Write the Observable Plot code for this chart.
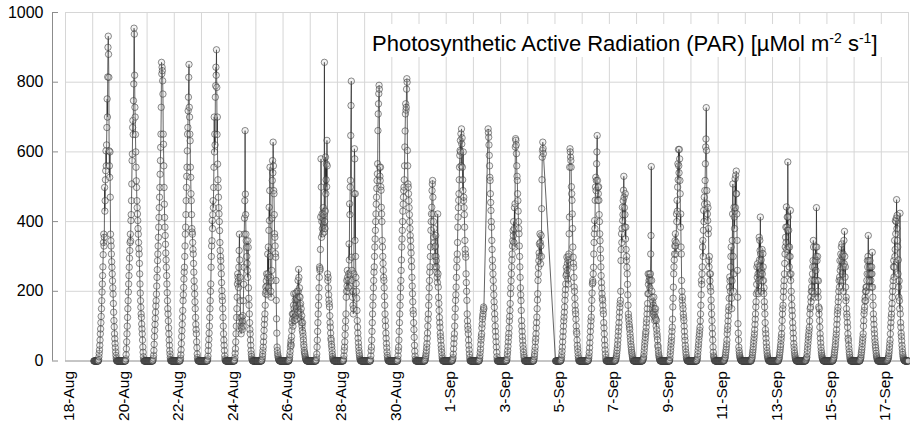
<!DOCTYPE html>
<html><head><meta charset="utf-8">
<script src="https://cdn.jsdelivr.net/npm/d3@7"></script>
<script src="https://cdn.jsdelivr.net/npm/@observablehq/plot@0.6"></script>
<style>
html,body{margin:0;padding:0;background:#fff;}
#chart{width:910px;height:430px;}
</style></head><body><div id="chart"></div>
<script>
// PAR readings, µMol m-2 s-1, every 15 minutes from 05:00 to 21:00 (65 values per day)
const par19Aug = [0,4,12,22, 32,45,60,78, 92,110,128,150, 173,198,221,245, 270,305,340,364, 330,355,498,430, 460,520,546,603, 560,620,670,752, 700,815,900,932, 880,814,603,560, 527,600,470,364, 345,330,307,285, 269,250,230,210, 192,165,140,116, 98,78,64,50, 38,26,16,8, 3];
const par20Aug = [0,6,18,35, 55,78,100,125, 150,173,198,221, 245,269,295,317, 340,364,345,403, 420,460,508,575, 594,670,690,650, 747,795,955,938, 820,728,700,650, 600,556,517,498, 460,440,422,403, 380,364,340,322, 307,280,250,221, 195,173,154,135, 125,106,92,78, 60,40,25,12, 4];
const par21Aug = [0,3,8,16, 30,48,70,88, 105,122,140,158, 173,192,215,240, 262,288,307,330, 355,384,412,440, 470,498,536,575, 613,651,728,857, 824,843,833,804, 766,651,622,560, 498,450,412,384, 360,335,310,290, 269,245,221,196, 173,150,135,115, 95,78,60,45, 30,20,10,4, 1];
const par22Aug = [0,3,8,18, 32,50,70,87, 105,125,145,173, 190,211,235,255, 269,300,330,364, 384,420,460,498, 530,556,603,651, 670,718,757,814, 851,728,700,651, 632,556,527,480, 460,420,380,370, 364,340,320,307, 280,255,230,211, 192,170,150,125, 105,90,78,55, 38,20,10,4, 1];
const par23Aug = [0,2,6,14, 30,45,62,80, 100,125,150,173, 200,221,269,300, 330,345,403,380, 420,460,440,498, 556,700,600,651, 620,757,790,843, 820,893,785,650, 700,565,520,498, 470,440,422,400, 374,340,317,300, 288,269,250,225, 202,185,173,150, 125,100,78,60, 45,30,15,6, 2];
const par24Aug = [0,3,10,22, 35,55,78,100, 125,150,183,221, 250,240,230,211, 269,317,364,290, 240,173,125,100, 78,95,125,110, 90,115,130,100, 173,220,269,364, 410,460,661,479, 420,364,345,326, 300,280,260,240, 345,326,210,180, 160,135,110,90, 78,60,45,30, 20,12,6,3, 1];
const par25Aug = [0,2,6,12, 20,30,40,55, 70,88,105,120, 135,160,193,212, 200,230,250,215, 190,240,307,250, 327,210,375,441, 403,489,556,300, 240,200,183,230, 260,410,518,575, 540,628,560,489, 480,420,365,355, 330,308,298,231, 174,121,80,40, 30,21,15,10, 6,4,2,1, 0];
const par26Aug = [0,2,5,10, 18,28,40,50, 59,45,70,88, 110,135,120,100, 135,160,193,150, 125,116,140,175, 193,160,130,180, 150,120,200,175, 140,231,200,263, 240,185,210,160, 183,140,165,120, 150,110,130,100, 88,110,80,70, 60,48,40,30, 24,20,14,10, 6,4,2,1, 0];
const par27Aug = [0,3,10,20, 40,60,85,110, 135,160,183,210, 240,270,260,265, 320,413,580,499, 355,400,422,380, 365,410,440,390, 420,370,857,400, 380,430,585,480, 520,565,500,633, 560,250,231,240, 210,190,175,164, 155,130,110,97, 80,65,59,48, 40,30,20,12, 7,4,2,1, 0];
const par28Aug = [0,2,6,15, 30,40,55,75, 95,115,135,183, 200,231,215,260, 240,200,231,210, 250,336,290,451, 420,499,518,647, 733,803,298,260, 231,183,200,160, 135,150,250,480, 609,580,346,480, 300,240,222,200, 180,145,116,97, 80,65,52,40, 30,22,15,9, 5,3,1,0, 0];
const par29Aug = [0,4,15,30, 40,60,85,110, 135,160,183,210, 231,255,270,300, 327,350,375,400, 422,450,470,495, 518,537,566,661, 709,738,767,791, 780,556,530,518, 556,500,490,441, 422,400,346,327, 300,280,260,240, 231,210,185,160, 135,116,100,80, 65,50,38,26, 16,9,4,2, 0];
const par30Aug = [0,5,15,30, 40,60,85,110, 135,160,183,210, 231,260,290,327, 350,375,400,430, 450,470,489,499, 520,560,614,660, 709,738,720,728, 780,810,800,604, 560,508,499,480, 460,440,420,400, 380,360,346,327, 310,288,270,240, 215,193,170,145, 135,110,90,68, 45,28,14,5, 1];
const par31Aug = [0,2,5,10, 15,22,30,40, 50,65,80,100, 120,135,160,183, 210,231,255,270, 300,327,375,400, 422,441,489,508, 518,470,422,400, 355,380,340,327, 300,270,330,360, 300,288,270,255, 240,225,422,250, 212,183,165,145, 125,110,97,80, 70,59,45,35, 25,15,8,3, 1];
const par01Sep = [0,1,3,6, 10,20,35,50, 65,78,100,126, 150,174,190,212, 240,269,290,307, 340,384,413,440, 461,480,520,556, 590,604,633,600, 652,560,666,623, 640,556,520,489, 600,460,470,440, 420,384,346,320, 307,298,250,225, 200,174,135,115, 100,90,78,60, 45,32,20,10, 3];
const par02Sep = [0,3,8,15, 25,35,48,60, 70,78,95,106, 120,128,135,145, 155,150,null,null, null,null,null,null, null,null,null,null, null,null,null,null, 666,655,642,620, 590,560,527,518, 480,455,432,400, 384,346,320,290, 270,250,231,210, 190,170,154,135, 120,100,85,70, 55,40,25,12, 4];
const par03Sep = [0,1,4,10, 20,30,42,55, 68,79,95,115, 128,145,165,193, 210,230,250,270, 290,307,330,345, 374,360,400,340, 380,440,327,451, 614,638,633,620, 595,560,530,518, 480,460,430,400, 380,365,330,300, 270,240,210,190, 173,145,116,100, 85,70,58,45, 35,25,16,10, 4];
const par04Sep = [0,2,6,12, 20,30,40,55, 65,78,95,110, 126,150,175,193, 231,250,269,288, 310,336,300,365, 340,279,330,360, 300,437,520,585, 604,628,610,595, null,null,null,null, null,null,null,null, null,null,null,null, null,null,null,null, null,null,null,null, null,null,null,null, null,null,null,null, null];
const par05Sep = [0,2,5,10, 18,28,40,55, 70,85,100,115, 126,140,155,174, 190,205,221,245, 269,250,298,260, 280,235,290,221, 300,307,365,413, 556,609,600,585, 575,556,500,480, 461,422,380,327, 298,280,269,240, 212,200,180,160, 145,135,120,100, 85,78,60,45, 35,25,15,8, 3];
const par06Sep = [0,1,3,8, 15,25,38,52, 68,85,100,115, 126,150,174,195, 221,231,225,250, 269,307,340,365, 403,380,461,499, 527,489,518,566, 600,647,518,461, 498,480,500,461, 420,400,365,345, 320,295,270,245, 225,210,193,180, 174,160,145,135, 110,95,78,60, 45,32,20,10, 3];
const par07Sep = [0,1,3,6, 10,15,22,30, 38,48,60,72, 85,97,110,126, 140,154,165,174, 200,288,320,365, 340,380,441,403, 420,460,490,530, 470,440,384,420, 480,350,384,320, 288,300,269,250, 220,190,160,135, 125,116,105,97, 90,78,68,58, 48,40,32,25, 20,14,9,5, 2];
const par08Sep = [0,1,3,5, 8,11,20,30, 40,50,59,68, 78,85,97,110, 120,135,150,165, 193,250,220,193, 231,250,240,210, 231,250,307,360, 558,231,200,183, 150,170,135,160, 140,183,130,150, 116,140,125,150, 120,100,116,90, 78,70,60,45, 40,30,21,15, 10,6,3,1, 0];
const par09Sep = [0,3,10,20, 30,40,50,59, 70,85,97,120, 155,180,212,250, 270,290,307,330, 345,365,330,307, 340,422,400,461, 430,499,566,520, 607,560,540,607, 580,518,480,384, 422,327,307,231, 200,174,183,160, 150,135,125,116, 100,85,70,59, 45,35,25,17, 10,6,3,1, 0];
const par10Sep = [0,2,6,11, 20,30,40,49, 60,70,78,88, 97,115,135,160, 190,231,220,250, 270,327,346,300, 375,432,400,470, 450,489,518,566, 614,637,727,604, 489,451,422,403, 440,365,380,288, 270,300,250,230, 212,250,200,175, 155,135,116,95, 78,60,40,25, 15,11,6,3, 1];
const par11Sep = [0,1,3,6, 9,11,18,25, 32,40,49,60, 78,90,100,115, 130,145,155,180, 212,241,230,200, 270,300,327,180, 150,230,346,422, 508,300,200,250, 441,413,380,430, 523,440,533,480, 545,480,422,346, 260,183,107,80, 60,40,30,22, 16,11,8,5, 3,2,1,0, 0];
const par12Sep = [0,2,5,8, 11,18,25,32, 40,50,59,68, 78,90,105,120, 135,155,170,193, 220,270,240,279, 200,250,193,230, 270,355,290,346, 317,413,307,250, 290,200,260,320, 250,230,308,270, 231,193,210,170, 155,135,110,90, 78,65,52,40, 30,22,15,11, 7,4,2,1, 0];
const par13Sep = [0,2,5,8, 11,18,25,32, 40,48,59,68, 78,95,116,135, 150,160,183,200, 215,231,250,280, 307,327,355,384, 340,442,320,384, 413,375,571,413, 327,375,300,270, 327,250,300,432, 231,250,200,180, 160,145,130,110, 95,80,65,50, 40,30,22,16, 11,7,4,2, 0];
const par14Sep = [0,1,3,6, 9,11,20,30, 40,50,60,70, 78,88,97,115, 135,150,155,183, 170,200,212,231, 200,250,270,288, 346,327,231,193, 270,183,231,288, 327,260,300,440, 327,288,231,300, 200,183,230,155, 135,150,116,97, 78,65,52,40, 30,22,16,11, 8,5,3,1, 0];
const par15Sep = [0,1,3,5, 8,11,18,25, 32,40,48,59, 68,78,90,105, 120,135,145,154, 170,183,200,231, 212,241,288,260, 231,307,270,327, 288,336,300,250, 231,307,200,270, 346,279,372,300, 241,270,212,173, 183,150,135,126, 110,97,78,65, 58,45,35,25, 18,11,6,3, 0];
const par16Sep = [0,2,5,8, 11,18,25,32, 40,50,59,68, 78,100,116,135, 145,155,173,183, 200,173,212,200, 212,231,250,288, 270,300,360,288, 250,231,270,212, 288,250,270,231, 250,212,270,250, 312,212,183,160, 135,120,105,90, 78,65,55,45, 38,30,22,15, 11,7,4,2, 0];
const par17Sep = [0,1,3,5, 8,10,15,22, 30,40,50,60, 78,97,110,125, 135,150,165,183, 200,215,231,270, 288,241,269,346, 300,320,403,365, 400,410,463,380, 418,346,327,250, 290,212,183,230, 173,150,424,135, 110,97,80,70, 58,45,35,25, 18,12,8,5, 3,2,1,0, 0];

const dayDates = ["2012-08-19","2012-08-20","2012-08-21","2012-08-22","2012-08-23","2012-08-24","2012-08-25","2012-08-26","2012-08-27","2012-08-28","2012-08-29","2012-08-30","2012-08-31","2012-09-01","2012-09-02","2012-09-03","2012-09-04","2012-09-05","2012-09-06","2012-09-07","2012-09-08","2012-09-09","2012-09-10","2012-09-11","2012-09-12","2012-09-13","2012-09-14","2012-09-15","2012-09-16","2012-09-17"];
const dayArrays = [par19Aug,par20Aug,par21Aug,par22Aug,par23Aug,par24Aug,par25Aug,par26Aug,par27Aug,par28Aug,par29Aug,par30Aug,par31Aug,par01Sep,par02Sep,par03Sep,par04Sep,par05Sep,par06Sep,par07Sep,par08Sep,par09Sep,par10Sep,par11Sep,par12Sep,par13Sep,par14Sep,par15Sep,par16Sep,par17Sep];
const nightValue = 0;                 // logger reads 0 between 21:15 and 04:45
const firstReading = "2012-08-19T01:00Z";
const lastReading = "2012-09-18T00:00Z";
const gaps = [["2012-09-04T14:00Z", "2012-09-05T00:30Z"]]; // missing readings

// axis
const axisStart = "2012-08-18T00:00Z";
const axisEnd = "2012-09-18T00:00Z";
const labelDates = ["2012-08-18","2012-08-20","2012-08-22","2012-08-24","2012-08-26","2012-08-28","2012-08-30","2012-09-01","2012-09-03","2012-09-05","2012-09-07","2012-09-09","2012-09-11","2012-09-13","2012-09-15","2012-09-17"];
const tickLabels = ["18-Aug","20-Aug","22-Aug","24-Aug","26-Aug","28-Aug","30-Aug","1-Sep","3-Sep","5-Sep","7-Sep","9-Sep","11-Sep","13-Sep","15-Sep","17-Sep"];
const yTicks = [0, 200, 400, 600, 800, 1000];

// build the reading table
const STEP = 15 * 60000;
const gapRanges = gaps.map(([a, b]) => [Date.parse(a), Date.parse(b)]);
const series = [];
for (let t = Date.parse(firstReading); t <= Date.parse(lastReading); t += STEP) {
  if (gapRanges.some(([a, b]) => t >= a && t < b)) continue;
  const d = new Date(t);
  const idx = dayDates.indexOf(d.toISOString().slice(0, 10));
  const mins = d.getUTCHours() * 60 + d.getUTCMinutes();
  let v = nightValue;
  if (idx >= 0 && mins >= 300 && mins <= 1260) {
    v = dayArrays[idx][(mins - 300) / 15];
    if (v == null) continue;
  }
  series.push({t: d, v});
}

const x0 = new Date(axisStart), x1 = new Date(axisEnd);
const gridDays = d3.utcDay.range(x0, d3.utcDay.offset(x1, 1));
const labelMap = new Map(labelDates.map((s, i) => [+new Date(s + "T00:00Z"), tickLabels[i]]));
const FONT = "'Liberation Sans', Arial, Helvetica, sans-serif";

const svg = Plot.plot({
  width: 910, height: 430,
  marginTop: 12, marginBottom: 69.5, marginLeft: 65, marginRight: 2,
  style: {fontFamily: FONT, background: "#fff", color: "#000"},
  x: {type: "utc", domain: [x0, x1]},
  y: {domain: [0, 1000]},
  marks: [
    Plot.ruleX(gridDays, {stroke: "#d6d6d6", strokeWidth: 1}),
    Plot.ruleY(yTicks.slice(1), {stroke: "#d6d6d6", strokeWidth: 1}),
    Plot.ruleY([0], {stroke: "#8c8c8c"}),
    Plot.ruleX([x0], {y1: 0, y2: 1000, dx: -13, stroke: "#8c8c8c"}),
    Plot.ruleY(yTicks, {x1: x0, x2: x0, dx: -13, insetRight: -6, stroke: "#8c8c8c"}),
    Plot.axisY({ticks: yTicks, tickSize: 0, tickPadding: 22, fontSize: 16, tickFormat: d => String(d), label: null}),
    Plot.axisX({ticks: labelDates.map(s => new Date(s + "T00:00Z")), tickFormat: d => labelMap.get(+d), tickRotate: -90, tickSize: 0, tickPadding: 10, dx: 4, fontSize: 15.5, label: null}),
    Plot.line(series, {x: "t", y: "v", stroke: "#1a1a1a", strokeWidth: 0.8, strokeOpacity: 0.85}),
    Plot.dot(series, {x: "t", y: "v", r: 3.2, stroke: "#333", strokeWidth: 0.75, strokeOpacity: 0.75, fill: "#d0d0d0", fillOpacity: 0.25})
  ]
});

const s = d3.select(svg);
s.append("rect").attr("x", 367).attr("y", 24).attr("width", 539).attr("height", 33).attr("fill", "#fff");
const title = s.append("text").attr("x", 372).attr("y", 51).attr("font-size", 22).attr("font-family", FONT).attr("fill", "#000").attr("text-anchor", "start");
title.append("tspan").text("Photosynthetic Active Radiation (PAR) [µMol m");
title.append("tspan").attr("font-size", 14).attr("dy", -8).text("-2");
title.append("tspan").attr("dy", 8).text(" s");
title.append("tspan").attr("font-size", 14).attr("dy", -8).text("-1");
title.append("tspan").attr("dy", 8).text("]");

document.getElementById("chart").appendChild(svg);
</script></body></html>
